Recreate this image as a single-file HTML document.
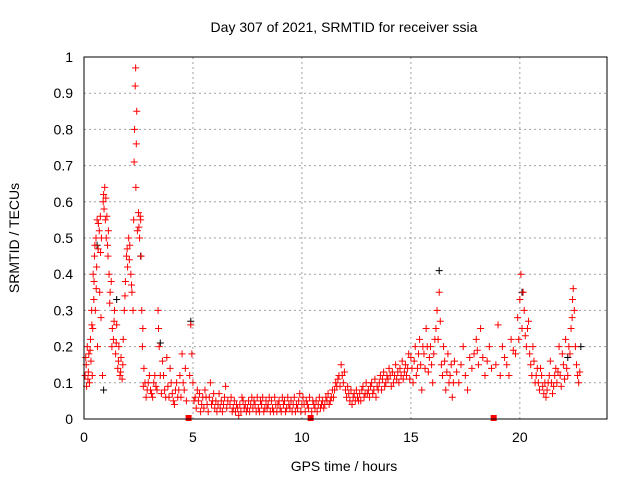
<!DOCTYPE html>
<html><head><meta charset="utf-8"><style>
body{margin:0;background:#fff}
svg{display:block;font-family:"Liberation Sans",sans-serif}
</style></head><body>
<svg id="chart" width="640" height="480" viewBox="0 0 640 480">
<rect width="640" height="480" fill="#fff"/>
<text x="344" y="32" font-size="14" text-anchor="middle">Day 307 of 2021, SRMTID for receiver ssia</text>
<text x="344" y="471" font-size="14" text-anchor="middle">GPS time / hours</text>
<text transform="translate(19,238) rotate(-90)" font-size="14" text-anchor="middle">SRMTID / TECUs</text>
<g id="grid"></g><g id="ticks"></g><g id="marks"></g>
<rect x="84" y="57" width="523" height="362" fill="none" stroke="#000" stroke-width="1"/>
</svg>
<script>
const xTicks=[0,5,10,15,20];
const yTicks=[0,0.1,0.2,0.3,0.4,0.5,0.6,0.7,0.8,0.9,1];
const gapMarks=[4.8,10.4,18.8];
const redPoints=[
[0.05,0.12],[0.1,0.15],[0.12,0.09],[0.15,0.2],[0.2,0.13],[0.22,0.18],[0.25,0.1],[0.3,0.22],[0.32,0.16],[0.35,0.3],[0.38,0.12],[0.4,0.25],[0.42,0.4],[0.45,0.33],[0.48,0.45],[0.5,0.48],[0.52,0.3],[0.55,0.5],[0.58,0.42],[0.6,0.55],[0.62,0.2],[0.65,0.47],[0.7,0.52],[0.72,0.35],[0.75,0.56],[0.78,0.28],[0.8,0.5],[0.85,0.12],[0.88,0.6],[0.9,0.62],[0.95,0.64],[1.0,0.61],[1.02,0.5],[1.05,0.56],[1.1,0.45],[1.12,0.52],[1.15,0.4],[1.2,0.35],[1.25,0.38],[1.3,0.25],[1.35,0.22],[1.4,0.3],[1.45,0.18],[1.5,0.26],[1.55,0.14],[1.6,0.2],[1.65,0.12],[1.7,0.17],[1.75,0.11],[1.8,0.22],[1.85,0.3],[1.9,0.38],[1.95,0.45],[2.0,0.42],[2.05,0.5],[2.1,0.48],[2.15,0.4],[2.2,0.35],[2.25,0.3],[2.28,0.55],[2.3,0.71],[2.32,0.8],[2.35,0.92],[2.37,0.97],[2.38,0.64],[2.4,0.76],[2.42,0.85],[2.45,0.52],[2.5,0.57],[2.55,0.5],[2.6,0.55],[2.62,0.45],[2.65,0.3],[2.7,0.25],[2.75,0.14],[2.8,0.1],[2.9,0.08],[3.0,0.12],[3.1,0.07],[3.2,0.1],[3.3,0.09],[3.4,0.3],[3.42,0.25],[3.45,0.2],[3.5,0.12],[3.6,0.16],[3.7,0.08],[3.8,0.17],[3.9,0.06],[4.0,0.1],[4.1,0.05],[4.2,0.08],[4.3,0.06],[4.4,0.12],[4.5,0.18],[4.6,0.08],[4.7,0.05],[4.85,0.12],[4.9,0.26],[4.95,0.18],[5.0,0.1],[5.1,0.06],[5.2,0.08],[5.4,0.04],[5.6,0.06],[5.8,0.1],[5.9,0.05],[6.0,0.03],[6.2,0.07],[6.4,0.04],[6.5,0.09],[6.6,0.05],[6.8,0.02],[7.0,0.04],[7.1,0.01],[7.3,0.05],[7.5,0.03],[7.7,0.06],[7.9,0.02],[8.1,0.05],[8.3,0.03],[8.5,0.06],[8.7,0.02],[8.9,0.04],[9.1,0.06],[9.3,0.03],[9.5,0.05],[9.7,0.02],[9.9,0.07],[10.1,0.04],[10.3,0.03],[10.5,0.05],[10.7,0.02],[10.9,0.04],[11.1,0.06],[11.3,0.05],[11.5,0.08],[11.7,0.12],[11.8,0.15],[11.9,0.1],[12.0,0.08],[12.2,0.05],[12.4,0.07],[12.6,0.05],[12.8,0.09],[13.0,0.07],[13.2,0.1],[13.4,0.06],[13.6,0.12],[13.8,0.09],[14.0,0.14],[14.2,0.1],[14.4,0.13],[14.6,0.16],[14.8,0.12],[15.0,0.17],[15.1,0.1],[15.2,0.2],[15.3,0.14],[15.4,0.22],[15.5,0.08],[15.6,0.18],[15.7,0.25],[15.8,0.13],[15.9,0.2],[16.0,0.1],[16.1,0.22],[16.2,0.3],[16.3,0.35],[16.35,0.27],[16.4,0.15],[16.5,0.2],[16.6,0.08],[16.7,0.18],[16.8,0.12],[16.9,0.06],[17.0,0.16],[17.2,0.1],[17.4,0.2],[17.6,0.08],[17.8,0.14],[18.0,0.22],[18.1,0.15],[18.2,0.25],[18.4,0.12],[18.6,0.2],[18.9,0.15],[19.0,0.26],[19.1,0.12],[19.2,0.2],[19.4,0.15],[19.6,0.22],[19.8,0.18],[19.9,0.28],[20.0,0.33],[20.05,0.4],[20.1,0.25],[20.2,0.3],[20.3,0.2],[20.4,0.27],[20.5,0.15],[20.6,0.2],[20.7,0.1],[20.8,0.14],[20.9,0.08],[21.0,0.12],[21.2,0.06],[21.3,0.1],[21.4,0.16],[21.5,0.07],[21.6,0.12],[21.8,0.2],[21.9,0.09],[22.0,0.15],[22.1,0.22],[22.2,0.12],[22.3,0.18],[22.4,0.28],[22.45,0.36],[22.5,0.3],[22.6,0.15],[22.7,0.1],[22.75,0.13]
];
const redPointsExtra=[
[0.08,0.17],[0.18,0.11],[0.28,0.19],[0.36,0.26],[0.46,0.38],[0.56,0.36],[0.66,0.54],[0.76,0.46],[0.92,0.58],[0.98,0.55],[1.08,0.48],[1.18,0.32],[1.28,0.2],[1.38,0.27],[1.48,0.21],[1.58,0.16],[1.68,0.13],[1.78,0.15],[1.88,0.34],[1.98,0.47],[2.08,0.44],[2.18,0.37],[2.52,0.53],[2.58,0.56],[2.68,0.2],[2.72,0.09],[2.85,0.06],[2.95,0.1],[3.05,0.08],[3.15,0.06],[3.25,0.12],[3.35,0.08],[3.55,0.07],[3.65,0.12],[3.75,0.06],[3.85,0.09],[3.95,0.14],[4.05,0.07],[4.15,0.04],[4.25,0.1],[4.35,0.08],[4.45,0.06],[4.55,0.1],[4.65,0.14],[5.05,0.05],[5.15,0.03],[5.25,0.05],[5.3,0.07],[5.35,0.02],[5.45,0.06],[5.5,0.03],[5.55,0.08],[5.65,0.04],[5.7,0.02],[5.75,0.06],[5.85,0.04],[5.95,0.07],[6.05,0.05],[6.1,0.02],[6.15,0.04],[6.25,0.03],[6.3,0.05],[6.35,0.02],[6.45,0.06],[6.55,0.03],[6.7,0.04],[6.75,0.06],[6.85,0.03],[6.9,0.05],[6.95,0.02],[7.05,0.03],[7.15,0.04],[7.2,0.02],[7.25,0.06],[7.35,0.03],[7.4,0.04],[7.45,0.02],[7.55,0.05],[7.6,0.02],[7.65,0.04],[7.75,0.03],[7.8,0.05],[7.85,0.04],[7.95,0.06],[8.0,0.03],[8.05,0.02],[8.15,0.04],[8.2,0.06],[8.25,0.02],[8.35,0.05],[8.4,0.03],[8.45,0.04],[8.55,0.02],[8.6,0.05],[8.65,0.03],[8.75,0.06],[8.8,0.04],[8.85,0.02],[8.95,0.05],[9.0,0.03],[9.05,0.02],[9.15,0.04],[9.2,0.05],[9.25,0.02],[9.35,0.06],[9.4,0.04],[9.45,0.03],[9.55,0.02],[9.6,0.04],[9.65,0.06],[9.75,0.04],[9.8,0.03],[9.85,0.05],[9.95,0.02],[10.0,0.04],[10.05,0.06],[10.15,0.02],[10.2,0.05],[10.25,0.04],[10.35,0.06],[10.45,0.02],[10.55,0.04],[10.6,0.03],[10.65,0.05],[10.75,0.04],[10.8,0.06],[10.85,0.03],[10.95,0.05],[11.0,0.03],[11.05,0.04],[11.15,0.05],[11.2,0.07],[11.25,0.04],[11.35,0.06],[11.4,0.08],[11.45,0.06],[11.55,0.1],[11.6,0.09],[11.65,0.11],[11.75,0.09],[11.85,0.12],[11.95,0.13],[12.05,0.06],[12.1,0.09],[12.15,0.07],[12.25,0.08],[12.3,0.04],[12.35,0.06],[12.45,0.05],[12.5,0.08],[12.55,0.06],[12.65,0.07],[12.7,0.05],[12.75,0.08],[12.85,0.06],[12.9,0.07],[12.95,0.1],[13.05,0.08],[13.1,0.06],[13.15,0.09],[13.25,0.07],[13.3,0.08],[13.35,0.11],[13.45,0.09],[13.5,0.08],[13.55,0.1],[13.65,0.08],[13.7,0.11],[13.75,0.13],[13.85,0.1],[13.9,0.12],[13.95,0.11],[14.05,0.12],[14.1,0.09],[14.15,0.13],[14.25,0.12],[14.3,0.15],[14.35,0.11],[14.45,0.1],[14.5,0.14],[14.55,0.12],[14.65,0.11],[14.7,0.13],[14.75,0.15],[14.85,0.14],[14.9,0.18],[14.95,0.11],[15.05,0.14],[15.15,0.16],[15.25,0.12],[15.35,0.18],[15.45,0.15],[15.55,0.2],[15.65,0.14],[15.75,0.2],[15.85,0.17],[15.95,0.15],[16.05,0.18],[16.15,0.25],[16.25,0.22],[16.45,0.12],[16.55,0.16],[16.65,0.13],[16.75,0.1],[16.85,0.15],[16.95,0.1],[17.1,0.13],[17.3,0.15],[17.5,0.12],[17.7,0.17],[17.9,0.18],[18.05,0.19],[18.3,0.17],[18.5,0.16],[18.7,0.14],[19.3,0.17],[19.5,0.12],[19.7,0.19],[19.95,0.22],[20.15,0.35],[20.25,0.23],[20.35,0.25],[20.45,0.18],[20.55,0.12],[20.65,0.16],[20.75,0.12],[20.85,0.1],[20.95,0.14],[21.05,0.09],[21.1,0.07],[21.15,0.1],[21.25,0.08],[21.35,0.12],[21.45,0.1],[21.55,0.09],[21.65,0.14],[21.7,0.1],[21.75,0.13],[21.85,0.12],[21.95,0.18],[22.05,0.11],[22.15,0.14],[22.25,0.2],[22.35,0.25],[22.42,0.33],[22.55,0.2],[22.65,0.12]
];
const blackPoints=[[0.6,0.48],[0.9,0.08],[1.5,0.33],[2.6,0.45],[3.5,0.21],[4.9,0.27],[16.3,0.41],[20.1,0.35],[22.2,0.17],[22.8,0.2]];
const NS='http://www.w3.org/2000/svg';
const X=v=>84+v*(523/24), Y=v=>419-v*362;
const grid=document.getElementById('grid'),ticks=document.getElementById('ticks'),marks=document.getElementById('marks');
function mk(tag,attrs,parent){const e=document.createElementNS(NS,tag);for(const k in attrs)e.setAttribute(k,attrs[k]);parent.appendChild(e);return e;}
xTicks.forEach(t=>{
 const g=mk('line',{x1:X(t),x2:X(t),y1:57,y2:419,stroke:'#a0a0a0','stroke-dasharray':'2,3','stroke-width':1},grid);
 
 
 const l=mk('text',{x:X(t),y:442,'font-size':14,'text-anchor':'middle'},ticks);l.textContent=t;
 
 
});
yTicks.forEach(t=>{
 const g=mk('line',{x1:84,x2:607,y1:Y(t),y2:Y(t),stroke:'#a0a0a0','stroke-dasharray':'2,3','stroke-width':1},grid);
 
 
 const l=mk('text',{x:73,y:Y(t)+5,'font-size':14,'text-anchor':'end'},ticks);l.textContent=t;
 
 
});
function plus(p,color,name){
 const x=X(p[0]),y=Y(p[1]);
 const e=mk('path',{d:`M${x-3.5},${y}h7M${x},${y-3.5}v7`,stroke:color,'stroke-width':1,fill:'none'},marks);
 
 
}
blackPoints.forEach(p=>plus(p,'#000','black-point'));
redPoints.forEach(p=>plus(p,'#f00','red-point'));
redPointsExtra.forEach(p=>plus(p,'#f00','red-point'));
gapMarks.forEach(t=>{
 const r=mk('rect',{x:X(t)-3,y:415,width:6,height:6,fill:'#f00'},marks);
 
 
});
</script>
</body></html>
